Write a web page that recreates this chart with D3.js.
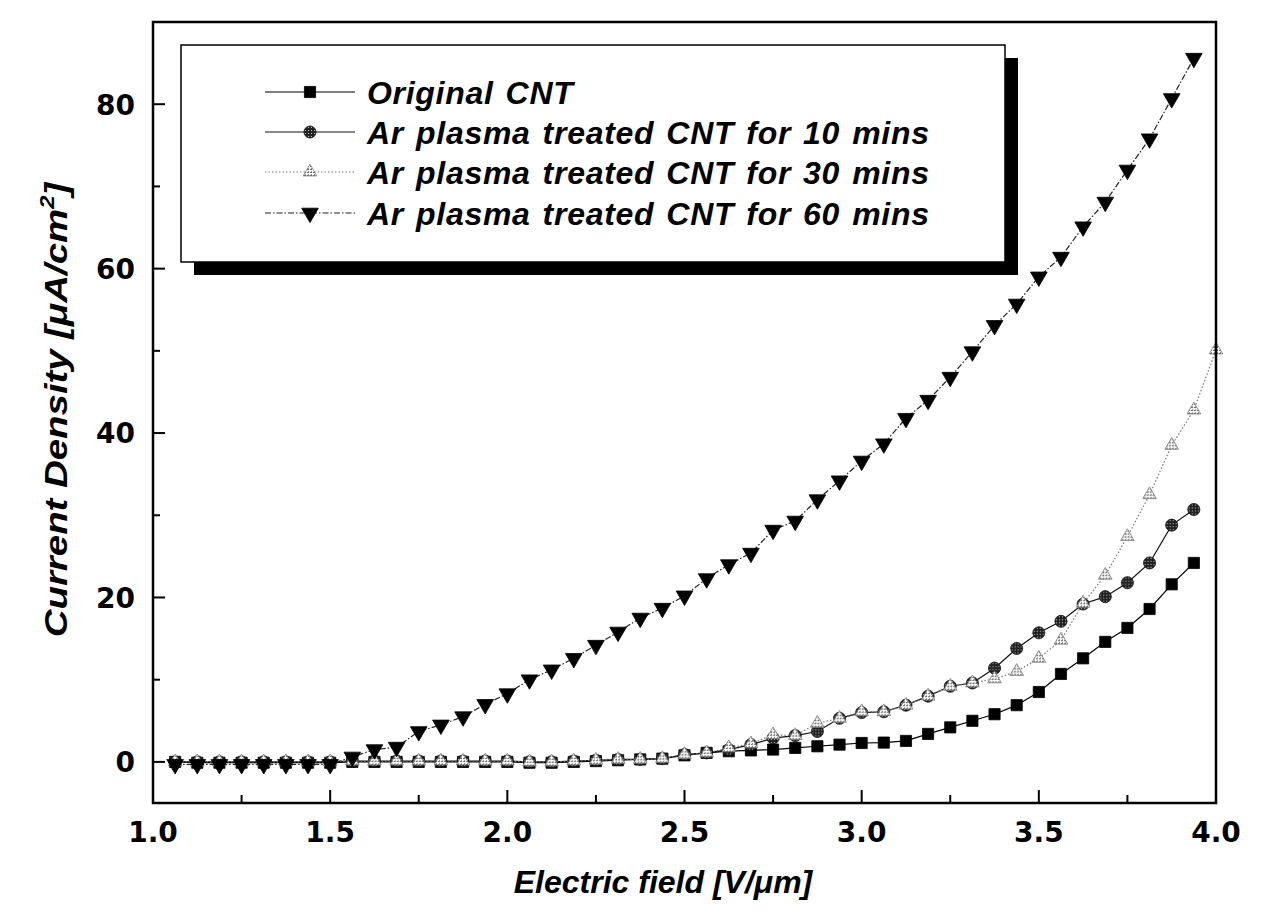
<!DOCTYPE html>
<html lang="en">
<head>
<meta charset="UTF-8">
<title>Current density vs electric field</title>
<script src="https://cdn.jsdelivr.net/npm/d3@7"></script>
<style>
    body { margin: 0; background: #fff; }
    .tick-label { font-family: "DejaVu Sans", sans-serif; font-weight: bold; font-size: 28px; fill: #000; }
    .title { font-family: "Liberation Sans", Arial, sans-serif; font-weight: bold; font-style: italic; font-size: 32px; fill: #000; }
    .legend-text { font-family: "Liberation Sans", Arial, sans-serif; font-weight: bold; font-style: italic; font-size: 32px; letter-spacing: 0.7px; word-spacing: 2.5px; fill: #000; }
</style>
</head>
<body>
<div id="output"></div>
<script>

// electric field values [V/um]
var fieldX = [1.0625, 1.125, 1.1875, 1.25, 1.3125, 1.375, 1.4375, 1.5,
              1.5625, 1.625, 1.6875, 1.75, 1.8125, 1.875, 1.9375, 2.0,
              2.0625, 2.125, 2.1875, 2.25, 2.3125, 2.375, 2.4375, 2.5,
              2.5625, 2.625, 2.6875, 2.75, 2.8125, 2.875, 2.9375, 3.0,
              3.0625, 3.125, 3.1875, 3.25, 3.3125, 3.375, 3.4375, 3.5,
              3.5625, 3.625, 3.6875, 3.75, 3.8125, 3.875, 3.9375, 4.0];

// current density [uA/cm2]
var original = [0.0, -0.1, -0.1, -0.1, -0.1, -0.1, -0.1, -0.1,
                0.0, 0.0, 0.0, 0.0, 0.0, 0.0, 0.0, 0.0,
                -0.1, -0.1, 0.0, 0.1, 0.2, 0.3, 0.4, 0.8,
                1.1, 1.3, 1.4, 1.5, 1.7, 1.9, 2.1, 2.3,
                2.35, 2.55, 3.4, 4.2, 5.0, 5.8, 6.9, 8.5,
                10.7, 12.6, 14.6, 16.3, 18.6, 21.6, 24.2];

var plasma10 = [0, 0, 0, 0, 0, 0, 0, 0,
                0.1, 0.1, 0.1, 0.1, 0.1, 0.1, 0.1, 0.1,
                0.0, 0.0, 0.1, 0.2, 0.3, 0.3, 0.4, 0.9,
                1.1, 1.5, 2.1, 2.9, 3.2, 3.7, 5.3, 6.0,
                6.1, 6.9, 8.0, 9.2, 9.6, 11.4, 13.8, 15.7,
                17.1, 19.2, 20.1, 21.8, 24.2, 28.8, 30.7];

var plasma30 = [0, 0, 0, 0, 0, 0, 0, 0,
                0.1, 0.1, 0.1, 0.1, 0.1, 0.1, 0.1, 0.1,
                0.0, 0.0, 0.1, 0.2, 0.3, 0.3, 0.4, 0.9,
                1.1, 1.7, 2.2, 3.3, 3.2, 4.7, 5.3, 6.1,
                6.1, 6.9, 8.0, 9.2, 9.6, 10.1, 11.0, 12.6,
                14.8, 19.3, 22.7, 27.4, 32.5, 38.5, 42.8, 50.1];

var plasma60 = [-0.3, -0.3, -0.3, -0.3, -0.3, -0.3, -0.3, -0.3,
                0.6, 1.5, 1.8, 3.7, 4.5, 5.5, 7.0, 8.3,
                10.0, 11.2, 12.6, 14.2, 15.8, 17.5, 18.7, 20.2,
                22.3, 24.0, 25.4, 28.2, 29.3, 31.9, 34.2, 36.6,
                38.7, 41.8, 44.0, 46.8, 49.9, 53.1, 55.7, 59.0,
                61.4, 65.1, 68.1, 72.0, 75.8, 80.7, 85.6];

var seriesNames = ["Original CNT",
                   "Ar plasma treated CNT for 10 mins",
                   "Ar plasma treated CNT for 30 mins",
                   "Ar plasma treated CNT for 60 mins"];

var xTicks = [1.0, 1.5, 2.0, 2.5, 3.0, 3.5, 4.0];
var yTicks = [0, 20, 40, 60, 80];

var w = 1265;
var h = 920;

var svg = d3.select("#output")
            .append("svg")
            .attr("width", w)
            .attr("height", h);

var plotLeft = 153, plotRight = 1216, plotTop = 22, plotBottom = 803;

var xScale = d3.scaleLinear().domain([1, 4]).range([plotLeft, plotRight]);
var yScale = d3.scaleLinear().domain([-5, 90]).range([plotBottom, plotTop]);

// patterns for the hatched markers
var defs = svg.append("defs");
var p1 = defs.append("pattern")
        .attr("id", "hatchDark")
        .attr("patternUnits", "userSpaceOnUse")
        .attr("width", 3).attr("height", 3);
p1.append("rect").attr("width", 3).attr("height", 3).attr("fill", "#222");
p1.append("rect").attr("x", 1).attr("y", 1).attr("width", 1).attr("height", 1).attr("fill", "#bbb");

var p2 = defs.append("pattern")
        .attr("id", "hatchLight")
        .attr("patternUnits", "userSpaceOnUse")
        .attr("width", 3).attr("height", 3);
p2.append("rect").attr("width", 3).attr("height", 3).attr("fill", "#fff");
p2.append("rect").attr("width", 2).attr("height", 1).attr("fill", "#666");
p2.append("rect").attr("x", 1).attr("y", 2).attr("width", 1).attr("height", 1).attr("fill", "#888");

var series = [
    { name: seriesNames[0], values: original, symbol: d3.symbolSquare, size: 125, rotate: 0,
      fill: "#000", stroke: "#000", line: "#000", dash: null },
    { name: seriesNames[1], values: plasma10, symbol: d3.symbolCircle, size: 115, rotate: 0,
      fill: "url(#hatchDark)", stroke: "#111", line: "#111", dash: null },
    { name: seriesNames[2], values: plasma30, symbol: d3.symbolTriangle, size: 80, rotate: 0,
      fill: "url(#hatchLight)", stroke: "#777", line: "#777", dash: "1.5,2" },
    { name: seriesNames[3], values: plasma60, symbol: d3.symbolTriangle, size: 120, rotate: 180,
      fill: "#000", stroke: "#000", line: "#222", dash: "6,2,1.5,2" }
];

var lineGen = d3.line()
        .x(function(d){ return xScale(d[0]); })
        .y(function(d){ return yScale(d[1]); });

var chartLayer = svg.append("g");

series.forEach(function(s) {
    var pts = s.values.map(function(v, i){ return [fieldX[i], v]; });
    chartLayer.append("path")
            .attr("d", lineGen(pts))
            .attr("fill", "none")
            .attr("stroke", s.line)
            .attr("stroke-width", 1.2)
            .attr("stroke-dasharray", s.dash);
    chartLayer.selectAll(null)
            .data(pts)
            .enter()
            .append("path")
            .attr("d", d3.symbol().type(s.symbol).size(s.size))
            .attr("transform", function(d){
                return "translate(" + xScale(d[0]) + "," + yScale(d[1]) + ") rotate(" + s.rotate + ")";
            })
            .attr("fill", s.fill)
            .attr("stroke", s.stroke)
            .attr("stroke-width", 0.8);
});

// frame
svg.append("rect")
        .attr("x", plotLeft).attr("y", plotTop)
        .attr("width", plotRight - plotLeft).attr("height", plotBottom - plotTop)
        .attr("fill", "none")
        .attr("stroke", "#000")
        .attr("stroke-width", 2.5);

// ticks point inwards, minor every 0.25 / 10
var xAxis = svg.append("g")
        .attr("transform", "translate(0," + plotBottom + ")");
xAxis.selectAll("line")
        .data(d3.range(1.25, 4, 0.25))
        .enter()
        .append("line")
        .attr("x1", function(d){ return xScale(d); })
        .attr("x2", function(d){ return xScale(d); })
        .attr("y1", 0)
        .attr("y2", function(d, i){ return i % 2 === 1 ? -13 : -8; })
        .attr("stroke", "#000")
        .attr("stroke-width", 2);

xAxis.selectAll("text")
        .data(xTicks)
        .enter()
        .append("text")
        .attr("class", "tick-label")
        .attr("x", function(d){ return xScale(d); })
        .attr("y", 39)
        .attr("text-anchor", "middle")
        .text(function(d){ return d3.format(".1f")(d); });

var yAxis = svg.append("g")
        .attr("transform", "translate(" + plotLeft + ",0)");
yAxis.selectAll("line")
        .data(d3.range(0, 90, 10))
        .enter()
        .append("line")
        .attr("x1", 0)
        .attr("x2", function(d){ return d % 20 === 0 ? 12 : 7; })
        .attr("y1", function(d){ return yScale(d); })
        .attr("y2", function(d){ return yScale(d); })
        .attr("stroke", "#000")
        .attr("stroke-width", 2);

yAxis.selectAll("text")
        .data(yTicks)
        .enter()
        .append("text")
        .attr("class", "tick-label")
        .attr("x", -18)
        .attr("y", function(d){ return yScale(d); })
        .attr("dy", "0.37em")
        .attr("text-anchor", "end")
        .text(function(d){ return d; });

// axis titles
svg.append("text")
        .attr("class", "title")
        .attr("x", 663)
        .attr("y", 893)
        .attr("text-anchor", "middle")
        .text("Electric field [V/\u03bcm]");

var yTitle = svg.append("text")
        .attr("class", "title")
        .attr("transform", "translate(67,410) rotate(-90) scale(1.2,1)")
        .attr("text-anchor", "middle");
yTitle.append("tspan").text("Current Density [\u03bcA/cm");
yTitle.append("tspan").attr("dy", -13).style("font-size", "20px").text("2");
yTitle.append("tspan").attr("dy", 13).text("]");

// legend with drop shadow
var legend = svg.append("g");
var lx = 181, ly = 45, lw = 824, lh = 217;
legend.append("rect")
        .attr("x", lx + 13).attr("y", ly + 13)
        .attr("width", lw).attr("height", lh)
        .attr("fill", "#000");
legend.append("rect")
        .attr("x", lx).attr("y", ly)
        .attr("width", lw).attr("height", lh)
        .attr("fill", "#fff")
        .attr("stroke", "#000")
        .attr("stroke-width", 1.5);

var rowY = [92, 132, 172, 213];
series.forEach(function(s, i) {
    var y = rowY[i];
    legend.append("line")
            .attr("x1", 265).attr("x2", 355)
            .attr("y1", y).attr("y2", y)
            .attr("stroke", s.line)
            .attr("stroke-width", 1.2)
            .attr("stroke-dasharray", s.dash);
    legend.append("path")
            .attr("d", d3.symbol().type(s.symbol).size(s.size))
            .attr("transform", "translate(310," + y + ") rotate(" + s.rotate + ")")
            .attr("fill", s.fill)
            .attr("stroke", s.stroke)
            .attr("stroke-width", 0.8);
    legend.append("text")
            .attr("class", "legend-text")
            .attr("x", 367)
            .attr("y", y)
            .attr("dy", "0.36em")
            .text(s.name);
});

</script>
</body>
</html>
